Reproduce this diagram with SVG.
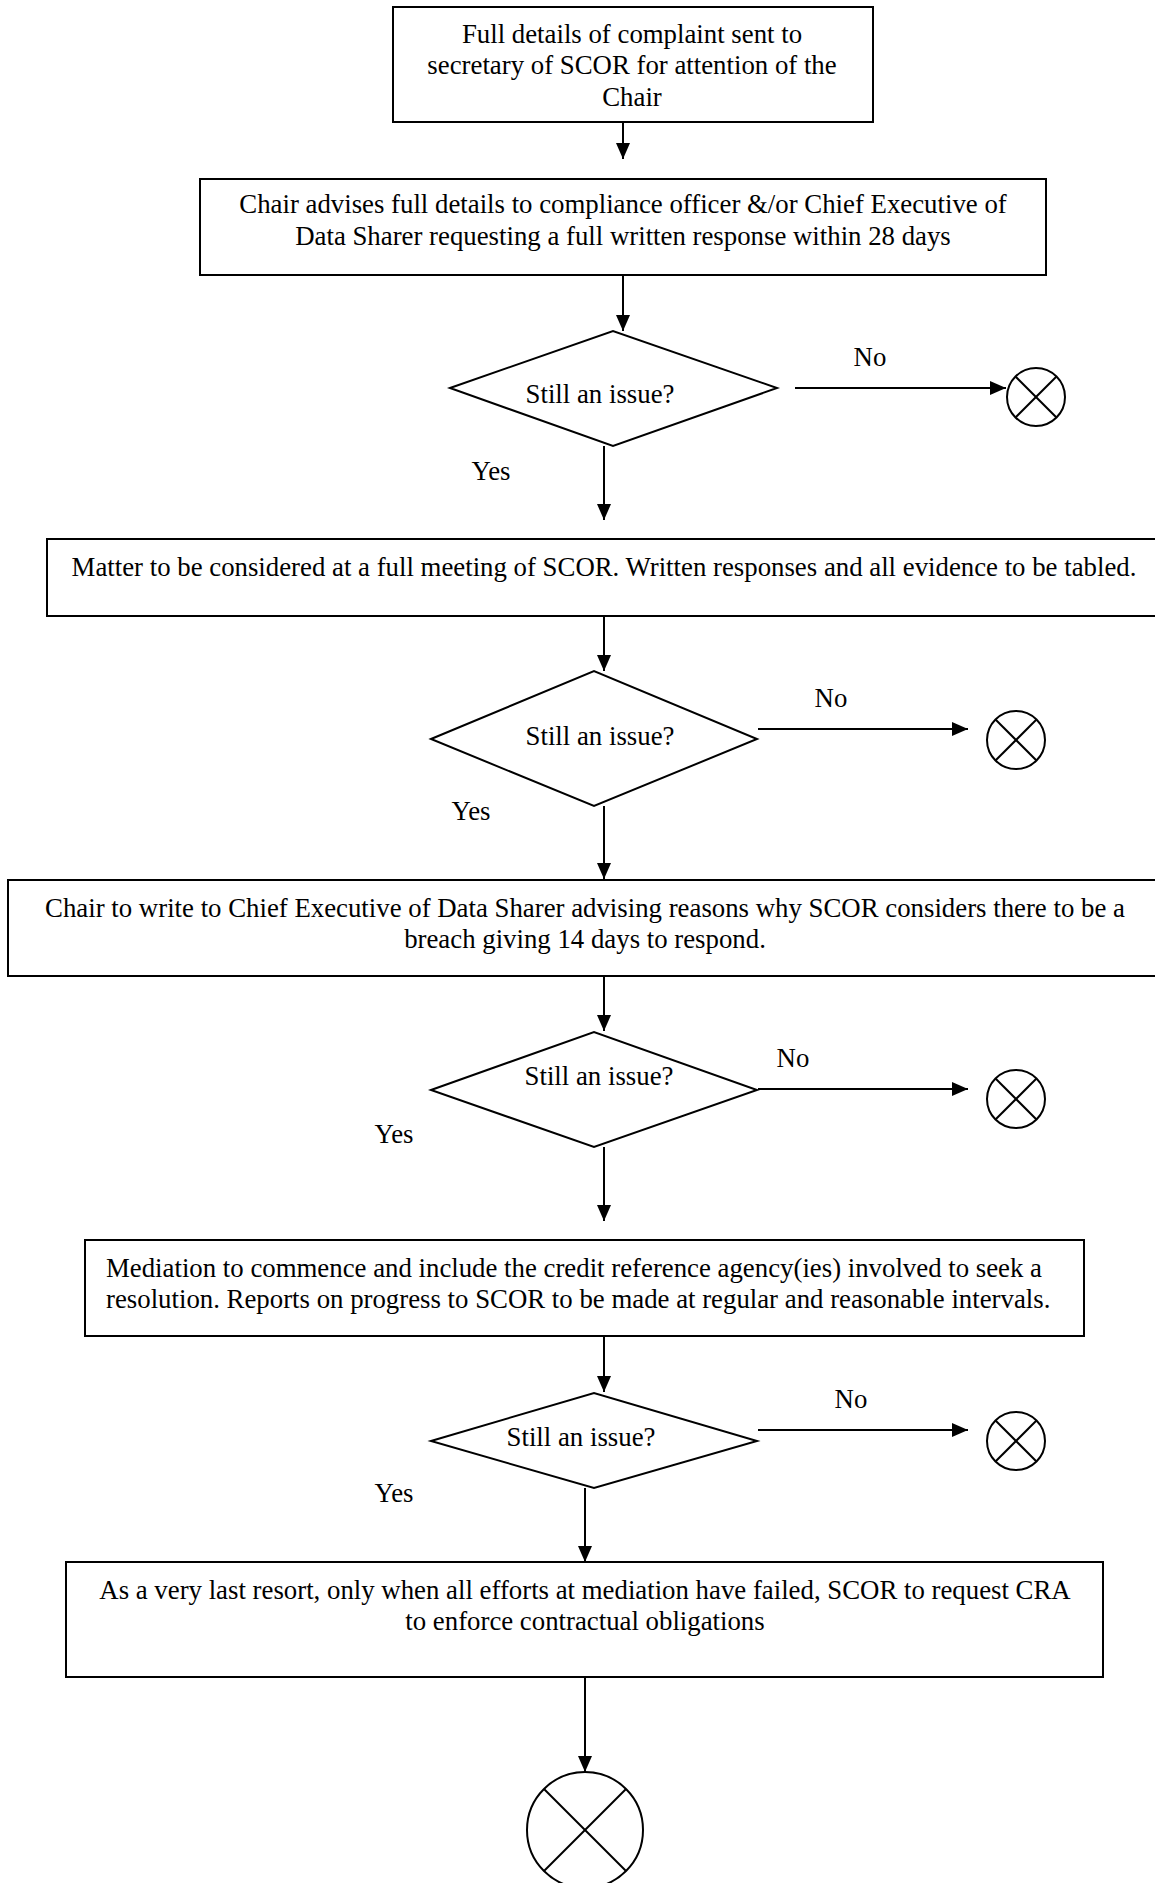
<svg xmlns="http://www.w3.org/2000/svg" width="1155" height="1883" viewBox="0 0 1155 1883">
<style>
text{font-family:"Liberation Serif","Times New Roman",serif;font-size:26.8px;fill:#000}
.m{text-anchor:middle}
.box,.dia,.end{fill:#fff;stroke:#000;stroke-width:2}
.x{stroke:#000;stroke-width:2}
.c{stroke:#000;stroke-width:2;fill:none}
</style>
<defs>
<marker id="ah" markerUnits="userSpaceOnUse" markerWidth="16" markerHeight="14" refX="16" refY="7" orient="auto">
<path d="M0,0 L16,7 L0,14 Z" fill="#000"/>
</marker>
</defs>
<rect width="1155" height="1883" fill="#fff"/>
<g id="connectors">
<line class="c" x1="623" y1="122" x2="623" y2="159" marker-end="url(#ah)"/>
<line class="c" x1="623" y1="275" x2="623" y2="331" marker-end="url(#ah)"/>
<line class="c" x1="795" y1="388" x2="1006" y2="388" marker-end="url(#ah)"/>
<line class="c" x1="604" y1="446" x2="604" y2="520" marker-end="url(#ah)"/>
<line class="c" x1="604" y1="616" x2="604" y2="671" marker-end="url(#ah)"/>
<line class="c" x1="758" y1="729" x2="968" y2="729" marker-end="url(#ah)"/>
<line class="c" x1="604" y1="806" x2="604" y2="879" marker-end="url(#ah)"/>
<line class="c" x1="604" y1="976" x2="604" y2="1031" marker-end="url(#ah)"/>
<line class="c" x1="758" y1="1089" x2="968" y2="1089" marker-end="url(#ah)"/>
<line class="c" x1="604" y1="1147" x2="604" y2="1221" marker-end="url(#ah)"/>
<line class="c" x1="604" y1="1336" x2="604" y2="1392" marker-end="url(#ah)"/>
<line class="c" x1="758" y1="1430" x2="968" y2="1430" marker-end="url(#ah)"/>
<line class="c" x1="585" y1="1488" x2="585" y2="1562" marker-end="url(#ah)"/>
<line class="c" x1="585" y1="1677" x2="585" y2="1772" marker-end="url(#ah)"/>
<text class="m" x="870" y="366">No</text>
<text class="m" x="491" y="480">Yes</text>
<text class="m" x="831" y="707">No</text>
<text class="m" x="471" y="820">Yes</text>
<text class="m" x="793" y="1067">No</text>
<text class="m" x="394" y="1143">Yes</text>
<text class="m" x="851" y="1408">No</text>
<text class="m" x="394" y="1502">Yes</text>
</g>
<g id="box1">
<rect class="box" x="393" y="7" width="480" height="115"/>
<text class="m" x="632" y="43">Full details of complaint sent to</text>
<text class="m" x="632" y="74">secretary of SCOR for attention of the</text>
<text class="m" x="632" y="106">Chair</text>
</g>
<g id="box2">
<rect class="box" x="200" y="179" width="846" height="96"/>
<text class="m" x="623" y="213">Chair advises full details to compliance officer &amp;/or Chief Executive of</text>
<text class="m" x="623" y="245">Data Sharer requesting a full written response within 28 days</text>
</g>
<g id="dec1">
<polygon class="dia" points="450,388 613,331 777,388 613,446"/>
<text class="m" x="600" y="403">Still an issue?</text>
</g>
<g id="end1">
<circle class="end" cx="1036" cy="397" r="29"/>
<line class="x" x1="1015.5" y1="376.5" x2="1056.5" y2="417.5"/>
<line class="x" x1="1056.5" y1="376.5" x2="1015.5" y2="417.5"/>
</g>
<g id="box3">
<rect class="box" x="47" y="539" width="1115" height="77"/>
<text class="m" x="604" y="576">Matter to be considered at a full meeting of SCOR. Written responses and all evidence to be tabled.</text>
</g>
<g id="dec2">
<polygon class="dia" points="431,739 594,671 757,739 594,806"/>
<text class="m" x="600" y="745">Still an issue?</text>
</g>
<g id="end2">
<circle class="end" cx="1016" cy="740" r="29"/>
<line class="x" x1="995.5" y1="719.5" x2="1036.5" y2="760.5"/>
<line class="x" x1="1036.5" y1="719.5" x2="995.5" y2="760.5"/>
</g>
<g id="box4">
<rect class="box" x="8" y="880" width="1154" height="96"/>
<text class="m" x="585" y="917">Chair to write to Chief Executive of Data Sharer advising reasons why SCOR considers there to be a</text>
<text class="m" x="585" y="948">breach giving 14 days to respond.</text>
</g>
<g id="dec3">
<polygon class="dia" points="431,1090 594,1032 757,1090 594,1147"/>
<text class="m" x="599" y="1085">Still an issue?</text>
</g>
<g id="end3">
<circle class="end" cx="1016" cy="1099" r="29"/>
<line class="x" x1="995.5" y1="1078.5" x2="1036.5" y2="1119.5"/>
<line class="x" x1="1036.5" y1="1078.5" x2="995.5" y2="1119.5"/>
</g>
<g id="box5">
<rect class="box" x="85" y="1240" width="999" height="96"/>
<text x="106" y="1277">Mediation to commence and include the credit reference agency(ies) involved to seek a</text>
<text x="106" y="1308">resolution. Reports on progress to SCOR to be made at regular and reasonable intervals.</text>
</g>
<g id="dec4">
<polygon class="dia" points="431,1441 594,1393 757,1441 594,1488"/>
<text class="m" x="581" y="1446">Still an issue?</text>
</g>
<g id="end4">
<circle class="end" cx="1016" cy="1441" r="29"/>
<line class="x" x1="995.5" y1="1420.5" x2="1036.5" y2="1461.5"/>
<line class="x" x1="1036.5" y1="1420.5" x2="995.5" y2="1461.5"/>
</g>
<g id="box6">
<rect class="box" x="66" y="1562" width="1037" height="115"/>
<text class="m" x="585" y="1599">As a very last resort, only when all efforts at mediation have failed, SCOR to request CRA</text>
<text class="m" x="585" y="1630">to enforce contractual obligations</text>
</g>
<g id="end5">
<circle class="end" cx="585" cy="1830" r="58"/>
<line class="x" x1="544" y1="1789" x2="626" y2="1871"/>
<line class="x" x1="626" y1="1789" x2="544" y2="1871"/>
</g>
</svg>
